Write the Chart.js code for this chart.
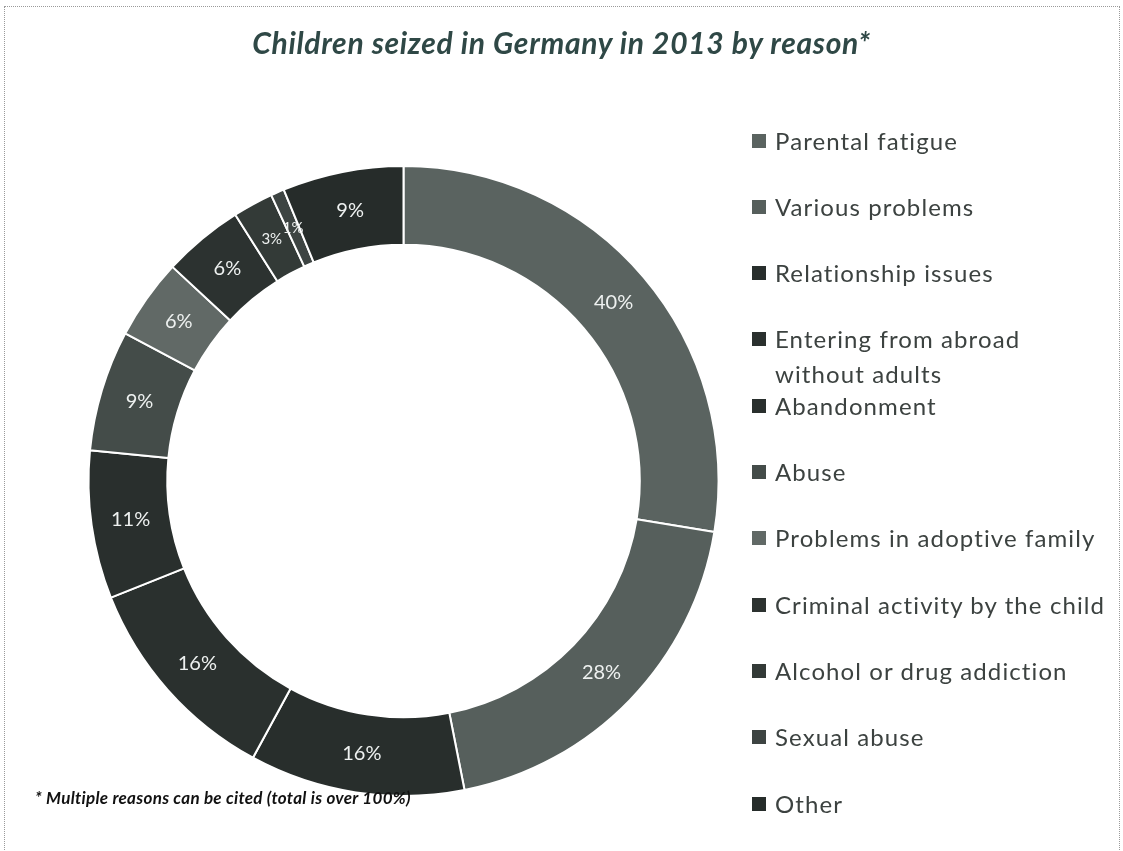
<!DOCTYPE html>
<html>
<head>
<meta charset="utf-8">
<script src="https://cdn.jsdelivr.net/npm/chart.js@4.4.1/dist/chart.umd.min.js"></script>
<style>
    html, body { margin: 0; padding: 0; background: #fff; }
    #wrap { position: relative; width: 1123px; height: 851px; overflow: hidden; font-family: Lato, "Open Sans", sans-serif; }
    #frame { position: absolute; left: 4px; top: 6px; width: 1114px; height: 860px; border: 1px dotted #9a9a9a; }
    #chartBox { position: absolute; left: 0; top: 0; width: 1123px; height: 851px; }
    #title { position: absolute; left: 0; width: 1123px; top: 24px; text-align: center; font-size: 30px; font-weight: bold; font-style: italic; color: #2f4846; letter-spacing: 0.7px; white-space: nowrap; }
    #note { position: absolute; left: 35px; top: 787px; font-size: 17px; font-weight: bold; font-style: italic; color: #111; letter-spacing: 0.3px; white-space: nowrap; }
    #legend { position: absolute; left: 752px; top: 0; }
    .item { position: absolute; left: 0; display: flex; align-items: flex-start; font-size: 24px; line-height: 35px; letter-spacing: 1.1px; color: #3c4240; white-space: nowrap; }
    .box { width: 14px; height: 14px; margin-top: 11px; margin-right: 9px; flex: none; }
</style>
</head>
<body>
<div id="wrap">
    <div id="frame"></div>
    <div id="chartBox"><canvas id="reasonChart" width="1123" height="851"></canvas></div>
    <div id="title">Children seized in Germany in 2013 by reason*</div>
    <div id="note">* Multiple reasons can be cited (total is over 100%)</div>
    <div id="legend"></div>
</div>
<script>
// Data
const reasons = [
    "Parental fatigue",
    "Various problems",
    "Relationship issues",
    ["Entering from abroad", "without adults"],
    "Abandonment",
    "Abuse",
    "Problems in adoptive family",
    "Criminal activity by the child",
    "Alcohol or drug addiction",
    "Sexual abuse",
    "Other"
];
const percentages = [40, 28, 16, 16, 11, 9, 6, 6, 3, 1, 9];
const sliceColors = [
    "#5a6360", "#565f5c", "#282e2c", "#2a302e", "#292f2d", "#444c49",
    "#616966", "#2c3230", "#333a37", "#3d4442", "#262c2a"
];

// Percent labels drawn in the middle of each slice
const sliceLabels = {
    id: "sliceLabels",
    afterDatasetsDraw(chart) {
        const ctx = chart.ctx;
        const meta = chart.getDatasetMeta(0);
        ctx.save();
        ctx.textAlign = "center";
        ctx.textBaseline = "middle";
        ctx.fillStyle = "#eef1f0";
        meta.data.forEach((arc, i) => {
            const pos = arc.tooltipPosition();
            const value = percentages[i];
            const size = value < 5 ? 15 : 20;
            ctx.font = `${size}px Lato, "Open Sans", sans-serif`;
            ctx.fillText(value + "%", pos.x, pos.y);
        });
        ctx.restore();
    }
};

const reasonChart = new Chart(document.getElementById("reasonChart"), {
    type: "doughnut",
    data: {
        labels: reasons,
        datasets: [{
            data: percentages,
            backgroundColor: sliceColors,
            borderColor: "#ffffff",
            borderWidth: 2
        }]
    },
    options: {
        responsive: false,
        animation: false,
        cutout: "75%",
        layout: { padding: { left: 87, right: 403, top: 165, bottom: 54 } },
        plugins: {
            legend: { display: false },
            tooltip: { enabled: false }
        }
    },
    plugins: [sliceLabels]
});

// Legend on the right
const legend = document.getElementById("legend");
reasons.forEach((label, i) => {
    const item = document.createElement("div");
    item.className = "item";
    item.style.top = (140 + i * 66.3 - 17.5) + "px";
    const text = Array.isArray(label) ? label.join("<br>") : label;
    item.innerHTML = `<span class="box" style="background:${sliceColors[i]}"></span><span>${text}</span>`;
    legend.appendChild(item);
});
</script>
</body>
</html>
